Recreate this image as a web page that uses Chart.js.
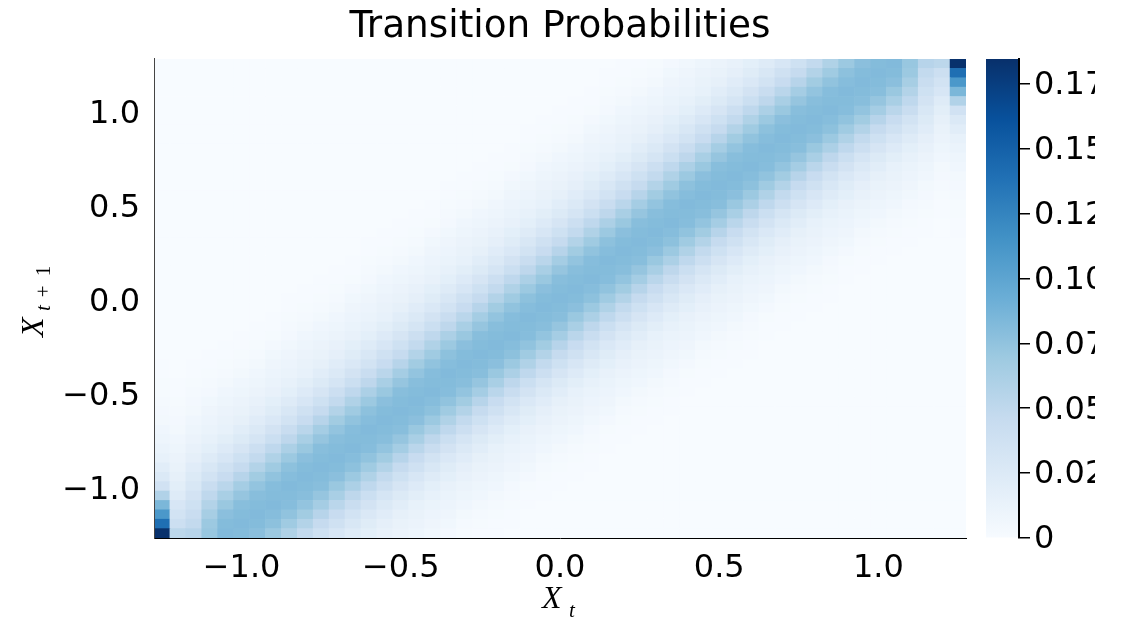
<!DOCTYPE html>
<html>
<head>
<meta charset="utf-8">
<title>Transition Probabilities</title>
<script src="https://cdn.jsdelivr.net/npm/chart.js@4"></script>
<style>
  html, body { margin: 0; padding: 0; background: #fff; }
  #wrap { position: relative; width: 1127px; height: 617px; overflow: hidden; }
  #heatBox { position: absolute; left: 0; top: 0; width: 975px; height: 617px; }
  #barBox { position: absolute; left: 975px; top: 0; width: 120px; height: 617px; }
</style>
</head>
<body>
<div id="wrap">
  <div id="heatBox"><canvas id="heatChart"></canvas></div>
  <div id="barBox"><canvas id="barChart"></canvas></div>
</div>
<script>
const gridValues = [-1.25,-1.2,-1.15,-1.1,-1.05,-1,-0.95,-0.9,-0.85,-0.8,-0.75,-0.7,-0.65,-0.6,-0.55,-0.5,-0.45,-0.4,-0.35,-0.3,-0.25,-0.2,-0.15,-0.1,-0.05,0,0.05,0.1,0.15,0.2,0.25,0.3,0.35,0.4,0.45,0.5,0.55,0.6,0.65,0.7,0.75,0.8,0.85,0.9,0.95,1,1.05,1.1,1.15,1.2,1.25];
const xTickValues = [-1, -0.5, 0, 0.5, 1];
const yTickValues = [-1, -0.5, 0, 0.5, 1];
const tickLabels = ['\u22121.0', '\u22120.5', '0.0', '0.5', '1.0'];
const barTickValues = [0, 0.025, 0.05, 0.075, 0.1, 0.125, 0.15, 0.175];
const barTickLabels = ['0', '0.025', '0.050', '0.075', '0.100', '0.125', '0.150', '0.175'];
const colorMax = 0.1845;
const blues = [[247,251,255],[222,235,247],[198,219,239],[158,202,225],[107,174,214],[66,146,198],[33,113,181],[8,81,156],[8,48,107]];

// first row that has a value, one entry per column
const bandStart = [0,0,0,0,0,0,0,0,0,0,0,0,0,0,0,0,0,0,0,0,0,0,1,3,4,5,6,7,9,10,11,12,13,15,16,17,18,19,21,22,23,24,25,27,28,29,30,31,32,34,32];
// per mille values, one list per column, bottom row first
const bandValues = [
  [184,140,110,85,58,36,26,20,15,12,9,7,5,4,3,2,2,1,1],
  [52,40,35,30,23,19,16,13,11,9,7,5,4,3,2,1,1],
  [55,48,43,38,34,29,25,21,17,14,11,9,7,5,4,3,2,1,1],
  [72,70,64,57,50,43,35,29,23,18,15,12,10,8,6,4,3,2,1,1],
  [82,81,78,71,63,53,44,37,30,24,19,15,13,11,9,7,5,3,2,1,1],
  [81,82,81,79,73,65,55,46,38,31,25,20,16,13,11,9,7,5,3,2,1,1],
  [78,81,82,81,79,74,67,57,48,40,32,26,21,17,14,11,9,7,5,3,2,1,1],
  [70,77,80,82,81,80,75,68,59,50,41,34,27,22,18,14,12,10,8,6,4,2,1,1],
  [59,68,75,80,81,82,80,77,70,61,51,43,35,29,23,18,15,12,10,8,6,4,3,2,1,1],
  [48,57,67,74,79,81,82,81,78,71,63,53,44,37,30,24,19,15,13,11,9,7,5,3,2,1,1],
  [38,46,55,65,73,79,81,82,81,79,73,65,55,46,38,31,25,20,16,13,11,9,7,5,3,2,1,1],
  [30,37,44,53,63,71,78,81,82,81,79,74,67,57,48,40,32,26,21,17,14,11,9,7,5,3,2,1,1],
  [23,29,35,43,51,61,70,77,80,82,81,80,75,68,59,50,41,34,27,22,18,14,12,10,8,6,4,2,1,1],
  [18,22,27,34,41,50,59,68,75,80,81,82,80,77,70,61,51,43,35,29,23,18,15,12,10,8,6,4,3,2,1,1],
  [14,17,21,26,32,40,48,57,67,74,79,81,82,81,78,71,63,53,44,37,30,24,19,15,13,11,9,7,5,3,2,1,1],
  [11,13,16,20,25,31,38,46,55,65,73,79,81,82,81,79,73,65,55,46,38,31,25,20,16,13,11,9,7,5,3,2,1,1],
  [9,11,13,15,19,24,30,37,44,53,63,71,78,81,82,81,79,74,67,57,48,40,32,26,21,17,14,11,9,7,5,3,2,1,1],
  [6,8,10,12,15,18,23,29,35,43,51,61,70,77,80,82,81,80,75,68,59,50,41,34,27,22,18,14,12,10,8,6,4,2,1,1],
  [4,6,8,10,12,14,18,22,27,34,41,50,59,68,75,80,81,82,80,77,70,61,51,43,35,29,23,18,15,12,10,8,6,4,3,2,1,1],
  [2,3,5,7,9,11,14,17,21,26,32,40,48,57,67,74,79,81,82,81,78,71,63,53,44,37,30,24,19,15,13,11,9,7,5,3,2,1,1],
  [1,2,3,5,7,9,11,13,16,20,25,31,38,46,55,65,73,79,81,82,81,79,73,65,55,46,38,31,25,20,16,13,11,9,7,5,3,2,1,1],
  [1,1,2,3,5,7,9,11,13,15,19,24,30,37,44,53,63,71,78,81,82,81,79,74,67,57,48,40,32,26,21,17,14,11,9,7,5,3,2,1,1],
  [1,1,2,3,4,6,8,10,12,15,18,23,29,35,43,51,61,70,77,80,82,81,80,75,68,59,50,41,34,27,22,18,14,12,10,8,6,4,2,1,1],
  [1,1,2,4,6,8,10,12,14,18,22,27,34,41,50,59,68,75,80,81,82,80,77,70,61,51,43,35,29,23,18,15,12,10,8,6,4,3,2,1,1],
  [1,1,2,3,5,7,9,11,14,17,21,26,32,40,48,57,67,74,79,81,82,81,78,71,63,53,44,37,30,24,19,15,13,11,9,7,5,3,2,1,1],
  [1,1,2,3,5,7,9,11,13,16,20,25,31,38,46,55,65,73,79,81,82,81,79,73,65,55,46,38,31,25,20,16,13,11,9,7,5,3,2,1,1],
  [1,1,2,3,5,7,9,11,13,15,19,24,30,37,44,53,63,71,78,81,82,81,79,74,67,57,48,40,32,26,21,17,14,11,9,7,5,3,2,1,1],
  [1,1,2,3,4,6,8,10,12,15,18,23,29,35,43,51,61,70,77,80,82,81,80,75,68,59,50,41,34,27,22,18,14,12,10,8,6,4,2,1,1],
  [1,1,2,4,6,8,10,12,14,18,22,27,34,41,50,59,68,75,80,81,82,80,77,70,61,51,43,35,29,23,18,15,12,10,8,6,4,3,2,1,1],
  [1,1,2,3,5,7,9,11,14,17,21,26,32,40,48,57,67,74,79,81,82,81,78,71,63,53,44,37,30,24,19,15,13,11,9,7,5,3,2,1,1],
  [1,1,2,3,5,7,9,11,13,16,20,25,31,38,46,55,65,73,79,81,82,81,79,73,65,55,46,38,31,25,20,16,13,11,9,7,5,3,2,1],
  [1,1,2,3,5,7,9,11,13,15,19,24,30,37,44,53,63,71,78,81,82,81,79,74,67,57,48,40,32,26,21,17,14,11,9,7,5,3,2],
  [1,1,2,3,4,6,8,10,12,15,18,23,29,35,43,51,61,70,77,80,82,81,80,75,68,59,50,41,34,27,22,18,14,12,10,8,6,4],
  [1,1,2,4,6,8,10,12,14,18,22,27,34,41,50,59,68,75,80,81,82,80,77,70,61,51,43,35,29,23,18,15,12,10,8,6],
  [1,1,2,3,5,7,9,11,14,17,21,26,32,40,48,57,67,74,79,81,82,81,78,71,63,53,44,37,30,24,19,15,13,11,9],
  [1,1,2,3,5,7,9,11,13,16,20,25,31,38,46,55,65,73,79,81,82,81,79,73,65,55,46,38,31,25,20,16,13,11],
  [1,1,2,3,5,7,9,11,13,15,19,24,30,37,44,53,63,71,78,81,82,81,79,74,67,57,48,40,32,26,21,17,14],
  [1,1,2,3,4,6,8,10,12,15,18,23,29,35,43,51,61,70,77,80,82,81,80,75,68,59,50,41,34,27,22,18],
  [1,1,2,4,6,8,10,12,14,18,22,27,34,41,50,59,68,75,80,81,82,80,77,70,61,51,43,35,29,23],
  [1,1,2,3,5,7,9,11,14,17,21,26,32,40,48,57,67,74,79,81,82,81,78,71,63,53,44,37,30],
  [1,1,2,3,5,7,9,11,13,16,20,25,31,38,46,55,65,73,79,81,82,81,79,73,65,55,46,38],
  [1,1,2,3,5,7,9,11,13,15,19,24,30,37,44,53,63,71,78,81,82,81,79,74,67,57,48],
  [1,1,2,3,4,6,8,10,12,15,18,23,29,35,43,51,61,70,77,80,82,81,80,75,68,59],
  [1,1,2,4,6,8,10,12,14,18,22,27,34,41,50,59,68,75,80,81,82,80,77,70],
  [1,1,2,3,5,7,9,11,14,17,21,26,32,40,48,57,67,74,79,81,82,81,78],
  [1,1,2,3,5,7,9,11,13,16,20,25,31,38,46,55,65,73,79,81,82,81],
  [1,1,2,3,5,7,9,11,13,15,19,24,30,37,44,53,63,71,78,81,82],
  [1,1,2,3,4,6,8,10,12,15,18,23,29,35,43,50,57,64,70,72],
  [1,1,2,3,4,5,7,9,11,14,17,21,25,29,34,38,43,48,55],
  [1,1,2,3,4,5,7,9,11,13,16,19,23,30,35,40,52],
  [1,1,2,2,3,4,5,7,9,12,15,20,26,36,58,85,110,140,184]
];

const FONT = "'DejaVu Sans', sans-serif";
const cellHalf = 0.025;

function valueAt(col, row) {
  const v = bandValues[col][row - bandStart[col]];
  return (v || 0) / 1000;
}

function blueFor(t) {
  const pos = Math.min(Math.max(t, 0), 1) * (blues.length - 1);
  const i = Math.min(Math.floor(pos), blues.length - 2);
  const f = pos - i;
  const c = blues[i].map((b, k) => Math.round(b + (blues[i + 1][k] - b) * f));
  return `rgb(${c[0]},${c[1]},${c[2]})`;
}

// one dataset per row of cells, floating bars
const rowDatasets = gridValues.map((y, row) => ({
  data: gridValues.map(() => [y - cellHalf, y + cellHalf]),
  backgroundColor: gridValues.map((x, col) => blueFor(valueAt(col, row) / colorMax)),
  borderWidth: 0,
  barPercentage: 1,
  categoryPercentage: 1,
  grouped: false
}));

function drawMathLabel(ctx, x, y, sub, subGap, subDrop) {
  ctx.fillStyle = '#000';
  ctx.textBaseline = 'alphabetic';
  ctx.textAlign = 'left';
  ctx.font = "italic 32px 'Liberation Serif', serif";
  ctx.fillText('X', x, y);
  let at = x + 24 + subGap;
  sub.forEach(part => {
    ctx.font = (part.italic ? 'italic ' : '') + "21px 'Liberation Serif', serif";
    ctx.fillText(part.text, at, y + subDrop);
    at += ctx.measureText(part.text).width + part.gap;
  });
}

const axisTitles = {
  id: 'axisTitles',
  afterDraw(chart) {
    const ctx = chart.ctx;
    ctx.save();
    drawMathLabel(ctx, 542, 608, [{ text: 't', italic: true, gap: 0 }], 3, 9);
    ctx.restore();
    ctx.save();
    ctx.translate(43, 337);
    ctx.rotate(-Math.PI / 2);
    drawMathLabel(ctx, 0, 0, [
      { text: 't', italic: true, gap: 8 },
      { text: '+', italic: false, gap: 9 },
      { text: '1', italic: false, gap: 0 }
    ], 2, 7);
    ctx.restore();
  }
};

new Chart(document.getElementById('heatChart'), {
  type: 'bar',
  data: { labels: gridValues, datasets: rowDatasets },
  plugins: [axisTitles],
  options: {
    responsive: true,
    maintainAspectRatio: false,
    animation: false,
    layout: { padding: { right: 9 } },
    plugins: {
      legend: { display: false },
      tooltip: { enabled: false },
      title: {
        display: true,
        text: 'Transition Probabilities',
        fullSize: false,
        color: '#000',
        font: { family: FONT, size: 37.4, weight: 'normal', lineHeight: 1.2 },
        padding: { top: 5, bottom: 9.1 }
      }
    },
    scales: {
      x: {
        offset: true,
        afterFit: s => { s.height = 79; },
        grid: { display: false },
        border: { display: true, color: '#000', width: 1, z: 1 },
        ticks: {
          autoSkip: false,
          maxRotation: 0,
          padding: 3,
          color: '#000',
          font: { family: FONT, size: 32 },
          callback: (v, i) => {
            const k = xTickValues.indexOf(gridValues[i]);
            return k < 0 ? '' : tickLabels[k];
          }
        }
      },
      y: {
        min: gridValues[0] - cellHalf,
        max: gridValues[gridValues.length - 1] + cellHalf,
        afterBuildTicks: s => { s.ticks = yTickValues.map(v => ({ value: v })); },
        afterFit: s => { s.width = 154; },
        grid: { display: false },
        border: { display: true, color: '#444', width: 1, z: 1 },
        ticks: {
          autoSkip: false,
          padding: 6,
          labelOffset: 4,
          color: '#000',
          font: { family: FONT, size: 32 },
          callback: (v, i) => tickLabels[i]
        }
      }
    }
  }
});

new Chart(document.getElementById('barChart'), {
  type: 'bar',
  data: {
    labels: ['colorbar'],
    datasets: [{
      data: [[0, colorMax]],
      borderWidth: 0,
      barPercentage: 1,
      categoryPercentage: 1,
      backgroundColor: c => {
        const area = c.chart.chartArea;
        if (!area) return blueFor(0.5);
        const g = c.chart.ctx.createLinearGradient(0, area.bottom, 0, area.top);
        blues.forEach((b, i) => g.addColorStop(i / (blues.length - 1), `rgb(${b[0]},${b[1]},${b[2]})`));
        return g;
      }
    }]
  },
  options: {
    responsive: true,
    maintainAspectRatio: false,
    animation: false,
    layout: { padding: { left: 11, top: 59, bottom: 79, right: 0 } },
    plugins: { legend: { display: false }, tooltip: { enabled: false } },
    scales: {
      x: { display: false },
      y: {
        position: 'right',
        min: 0,
        max: colorMax,
        afterBuildTicks: s => { s.ticks = barTickValues.map(v => ({ value: v })); },
        afterFit: s => { s.width = 76; },
        grid: { display: true, drawOnChartArea: false, color: '#000', lineWidth: 1.5, tickLength: 11 },
        border: { display: true, color: '#000', width: 2, z: 1 },
        ticks: {
          autoSkip: false,
          padding: 4,
          labelOffset: 2,
          color: '#000',
          font: { family: FONT, size: 32 },
          callback: (v, i) => barTickLabels[i]
        }
      }
    }
  }
});
</script>
</body>
</html>
